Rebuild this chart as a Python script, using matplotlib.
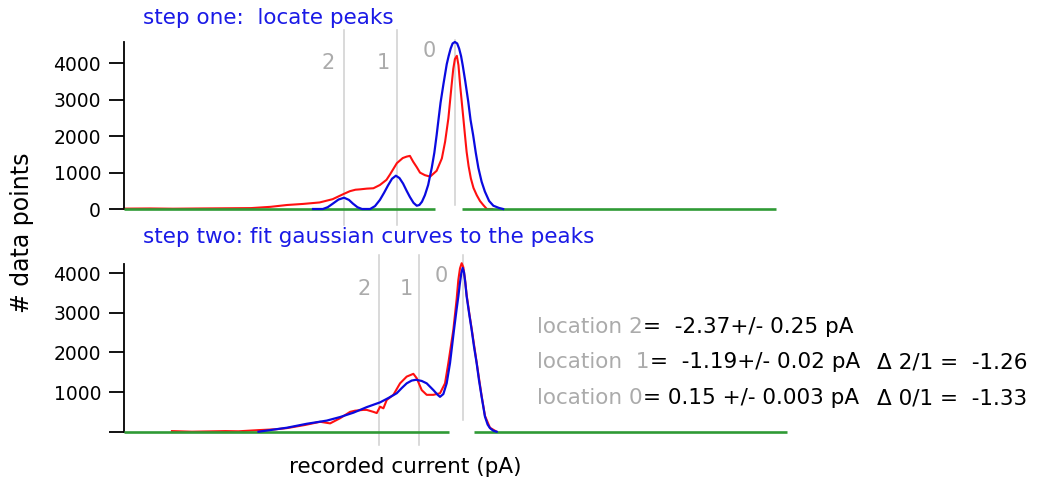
import matplotlib.pyplot as plt

plt.rcParams["font.family"] = ["DejaVu Sans"]

W, H = 1061, 484

# step one: measured histogram (red) and first guess peaks (blue), x in pA
top_red_x = [-10, -9.2, -8.5, -7.6, -6.8, -6.1, -5.5, -5.0, -4.5, -4.0, -3.6,
             -3.27, -3.07, -2.9, -2.76, -2.55, -2.35, -2.15, -1.95, -1.84,
             -1.63, -1.45, -1.33, -1.23, -1.13, -1.02, -0.92, -0.77, -0.61,
             -0.41, -0.25, -0.15, -0.05, 0.05, 0.10, 0.15, 0.21, 0.26, 0.31,
             0.36, 0.41, 0.46, 0.51, 0.57, 0.64, 0.72, 0.82, 0.92, 1.02,
             1.13, 1.3]
top_red_y = [10, 15, 8, 15, 20, 25, 60, 110, 140, 180, 270,
             410, 490, 530, 540, 560, 570, 660, 800, 950,
             1260, 1400, 1440, 1460, 1300, 1150, 1000, 930, 890,
             1050, 1390, 1850, 2490, 3410, 3850, 4120, 4210, 3950, 3410,
             2950, 2490, 2020, 1570, 1180, 840, 580, 380, 220, 110,
             0, 0]

top_blue_x = [-4.2, -3.9, -3.75, -3.59, -3.42, -3.25, -3.1, -2.98, -2.84, -2.70,
              -2.45, -2.3, -2.15, -2.02, -1.90, -1.78, -1.66, -1.55, -1.44,
              -1.33, -1.23, -1.12, -1.02, -0.94, -0.86, -0.77, -0.67, -0.56,
              -0.48, -0.41, -0.35, -0.29, -0.20, -0.10, -0.04, 0.02, 0.08,
              0.15, 0.22, 0.28, 0.34, 0.39, 0.47, 0.56, 0.63, 0.71, 0.79,
              0.87, 0.97, 1.07, 1.2, 1.33, 1.5, 1.63]
top_blue_y = [0, 0, 50, 150, 260, 310, 250, 150, 50, 0,
              0, 80, 250, 450, 650, 830, 915, 850, 700,
              500, 330, 170, 90, 110, 200, 380, 660, 1130,
              1550, 2030, 2480, 2920, 3440, 3980, 4210, 4410, 4550,
              4590, 4550, 4410, 4200, 3950, 3500, 2950, 2450, 2030, 1550,
              1130, 750, 480, 220, 90, 30, 0]

top_peaks = [-3.25, -1.63, 0.15]
top_baseline = [(-10, -0.46), (0.37, 10)]

# step two: measured histogram (red) and gaussian fit (blue)
bot_red_x = [-8.6, -8.0, -7.0, -6.6, -6.0, -5.5, -5.15, -4.6, -4.15, -3.85,
             -3.55, -3.25, -3.1, -2.85, -2.75, -2.55, -2.45, -2.35, -2.25,
             -2.15, -1.95, -1.75, -1.55, -1.35, -1.25, -1.10, -0.95, -0.75,
             -0.55, -0.40, -0.30, -0.15, -0.05, 0.0, 0.05, 0.10, 0.15, 0.20,
             0.25, 0.33, 0.40, 0.55, 0.70, 0.80, 0.95, 1.15]
bot_red_y = [15, 0, 15, 10, 40, 60, 90, 170, 250, 210,
             340, 500, 530, 550, 550, 500, 470, 630, 590,
             800, 930, 1220, 1390, 1460, 1350, 1050, 930, 930,
             970, 1220, 1730, 2570, 3350, 3830, 4120, 4250, 4150, 3850,
             3450, 2980, 2600, 1750, 900, 400, 100, 0]

bot_blue_x = [-6.0, -5.66, -5.15, -4.55, -3.95, -3.55, -3.15, -2.75, -2.35,
              -2.1, -1.85, -1.7, -1.55, -1.4, -1.27, -1.1, -0.95, -0.75,
              -0.62, -0.55, -0.45, -0.35, -0.25, -0.13, -0.05, 0.0, 0.04,
              0.09, 0.13, 0.17, 0.21, 0.25, 0.33, 0.40, 0.47, 0.55, 0.62,
              0.70, 0.80, 0.88, 0.95, 1.05, 1.15]
bot_blue_y = [0, 40, 100, 200, 280, 370, 480, 620, 740,
              850, 970, 1100, 1220, 1290, 1310, 1280, 1220, 1050,
              930, 880, 950, 1220, 1730, 2570, 3100, 3410, 3700,
              4000, 4130, 4020, 3750, 3410, 2950, 2570, 2150, 1730, 1300,
              880, 380, 180, 90, 25, 0]

fit_locations = [-2.37, -1.19, 0.15]
bot_baseline = [(-10.04, -0.28), (0.47, 9.87)]

peak_names = ["2", "1", "0"]
yticks = [0, 1000, 2000, 3000, 4000]

results = [
    ("location 2", "=  -2.37+/- 0.25 pA", ""),
    ("location  1", "=  -1.19+/- 0.02 pA", "\u0394 2/1 =  -1.26"),
    ("location 0", "= 0.15 +/- 0.003 pA", "\u0394 0/1 =  -1.33"),
]

RED = "#ff1010"
BLUE = "#0a0ae0"
GREEN = "#2f9a35"
GRAY = "#cfcfcf"
LABEL_GRAY = "#ababab"
TITLE_BLUE = "#1a1ae6"
FS = 15.5


def style_axis(ax, ymax, ticklabels):
    ax.set_ylim(0, ymax)
    ax.set_yticks(yticks)
    ax.set_yticklabels(ticklabels)
    ax.set_xticks([])
    for spine in ["top", "right", "bottom"]:
        ax.spines[spine].set_visible(False)
    ax.spines["left"].set_linewidth(1.3)
    ax.tick_params(axis="y", length=10.5, width=1.3, pad=6, labelsize=13.5)
    ax.patch.set_alpha(0)


def draw_panel(ax, red_x, red_y, blue_x, blue_y, baseline, lines):
    for x, lo, hi in lines:
        ax.plot([x, x], [lo, hi], color=GRAY, lw=1.1, clip_on=False, zorder=1)
    ax.plot(red_x, red_y, color=RED, lw=1.5, zorder=2, clip_on=False)
    for x0, x1 in baseline:
        ax.plot([x0, x1], [0, 0], color=GREEN, lw=1.9, zorder=3,
                clip_on=False, solid_capstyle="butt")
    ax.plot(blue_x, blue_y, color=BLUE, lw=1.6, zorder=4, clip_on=False)


fig = plt.figure(figsize=(W / 100, H / 100), dpi=100)

# ---- top panel ----
ax1 = fig.add_axes([124 / W, 1 - 209 / H, 652 / W, 167 / H])
ax1.set_xlim(-10, 10)
style_axis(ax1, 4590, [str(t) for t in yticks])
draw_panel(ax1, top_red_x, top_red_y, top_blue_x, top_blue_y, top_baseline,
           zip(top_peaks, [-440, -440, 110], [4920, 4920, 4640]))

# ---- bottom panel ----
ax2 = fig.add_axes([124 / W, 1 - 431.7 / H, 663 / W, 167.7 / H])
ax2.set_xlim(-10.04, 9.87)
style_axis(ax2, 4230, [""] + [str(t) for t in yticks[1:]])
draw_panel(ax2, bot_red_x, bot_red_y, bot_blue_x, bot_blue_y, bot_baseline,
           zip(fit_locations, [-340, -340, 290], [4460, 4460, 4460]))

# peak numbers
for name, (px, py) in zip(peak_names, [(328, 63), (383, 63), (429, 51)]):
    fig.text(px / W, 1 - py / H, name, color=LABEL_GRAY, fontsize=15,
             ha="center", va="center")
for name, (px, py) in zip(peak_names, [(364, 289), (406, 289), (441, 276)]):
    fig.text(px / W, 1 - py / H, name, color=LABEL_GRAY, fontsize=15,
             ha="center", va="center")

# titles and axis labels
fig.text(143 / W, 1 - 24 / H, "step one:  locate peaks", color=TITLE_BLUE,
         fontsize=FS, ha="left", va="baseline")
fig.text(143 / W, 1 - 243 / H, "step two: fit gaussian curves to the peaks",
         color=TITLE_BLUE, fontsize=FS, ha="left", va="baseline")
fig.text(22 / W, 1 - 233 / H, "# data points", rotation=90, fontsize=17,
         ha="center", va="center")
fig.text(405 / W, 1 - 473 / H, "recorded current (pA)", fontsize=FS,
         ha="center", va="baseline")

# fit results: gray name, then black value right after it
for (gray, black, delta), base in zip(results, [333, 368, 404]):
    t = fig.text(537 / W, 1 - base / H, gray, color=LABEL_GRAY, fontsize=FS,
                 ha="left", va="baseline")
    ax2.annotate(black, xy=(1, 0), xycoords=t, ha="left", va="bottom",
                 fontsize=FS, color="black")
    if delta:
        fig.text(877 / W, 1 - base / H, delta, color="black", fontsize=FS,
                 ha="left", va="baseline")

fig.savefig("out.png", dpi=100)
